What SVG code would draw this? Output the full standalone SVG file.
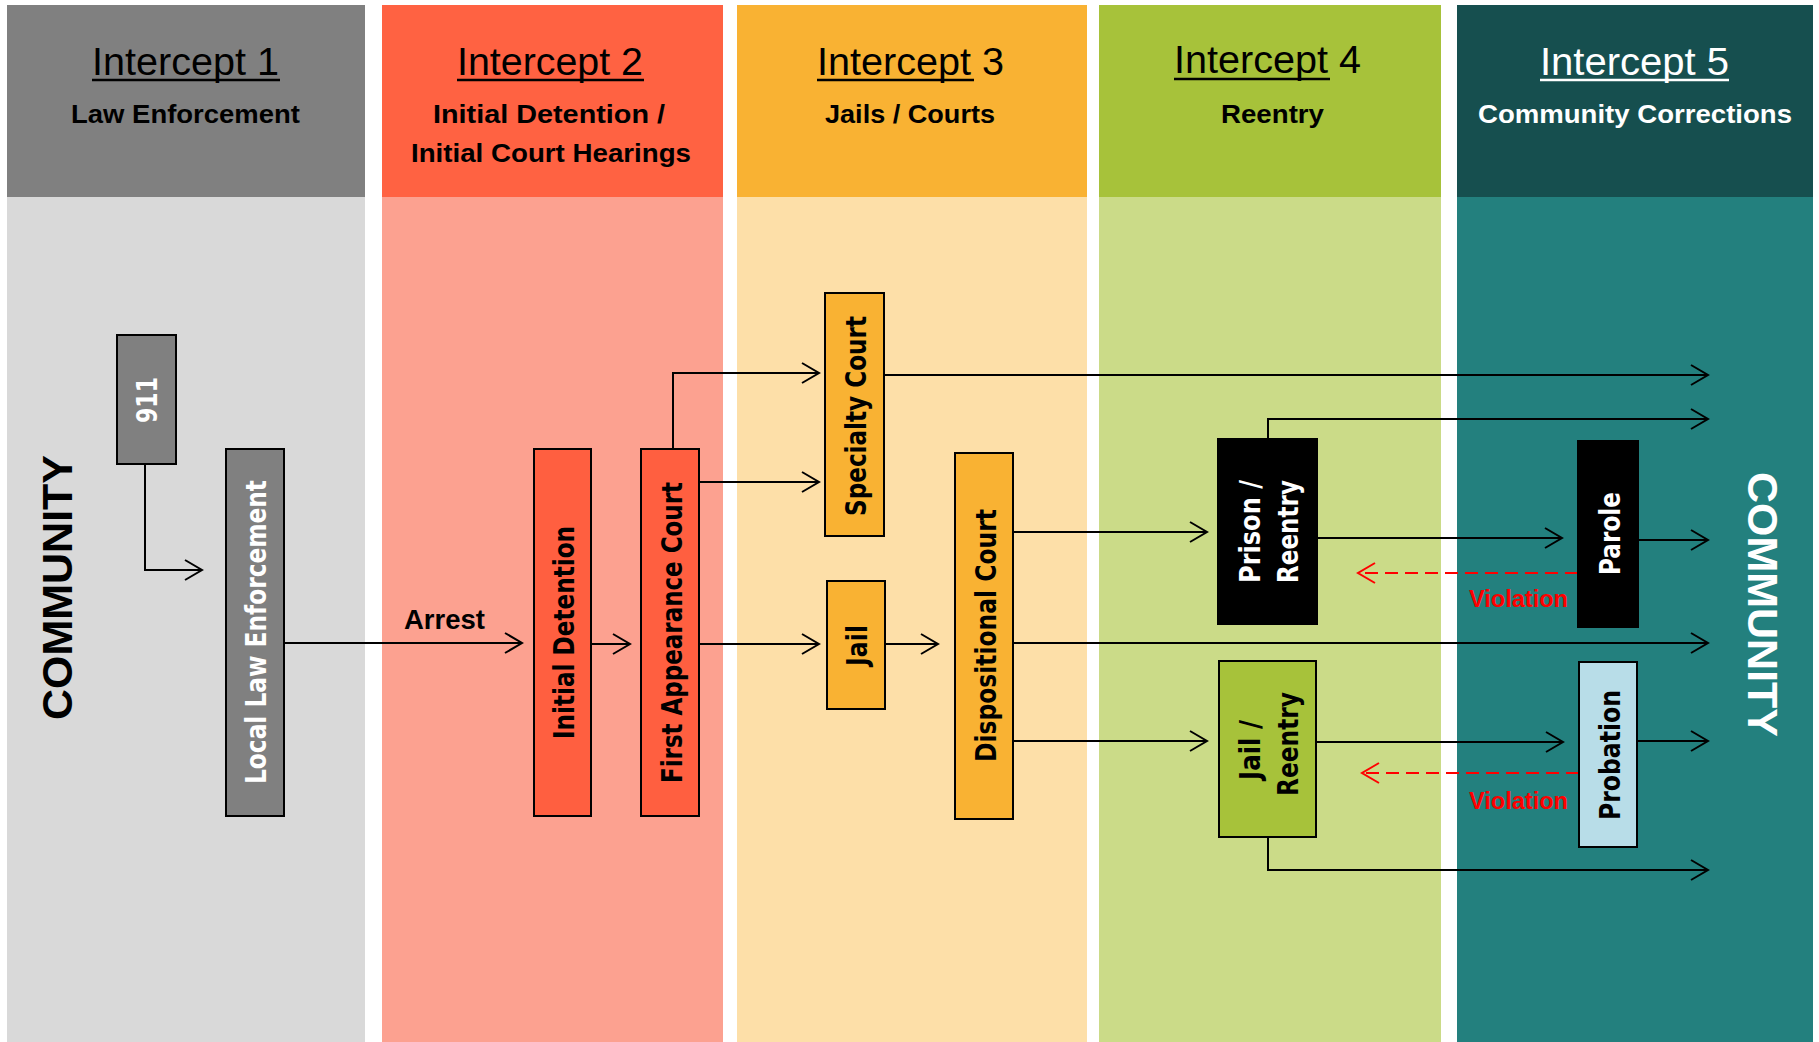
<svg xmlns="http://www.w3.org/2000/svg" width="1819" height="1042" viewBox="0 0 1819 1042">
<style>
.hd{font-family:"Liberation Sans",Arial,sans-serif;font-size:38px;}
.sub{font-family:"Liberation Sans",Arial,sans-serif;font-size:26px;font-weight:bold;}
.lbl{font-family:"DejaVu Sans",Verdana,sans-serif;font-size:29px;font-weight:bold;text-anchor:middle;}
.comm{font-family:"Liberation Sans",Arial,sans-serif;font-size:43px;font-weight:bold;text-anchor:middle;}
.viol{font-family:"Liberation Sans",Arial,sans-serif;font-size:24px;font-weight:bold;fill:#ff0000;}
.box{stroke:#000;stroke-width:2;}
.ul{stroke-width:2.5;}
.con{fill:none;stroke:#000;stroke-width:2;marker-end:url(#ah);}
.vio{fill:none;stroke:#ff0000;stroke-width:2;stroke-dasharray:13 7;marker-end:url(#ahr);}
</style>
<defs>
<marker id="ah" markerUnits="userSpaceOnUse" viewBox="-19 -12 21 24" refX="0" refY="0" markerWidth="21" markerHeight="24" orient="auto">
<path d="M-17,-10 L0,0 L-17,10" fill="none" stroke="#000" stroke-width="2"/>
</marker>
<marker id="ahr" markerUnits="userSpaceOnUse" viewBox="-19 -12 21 24" refX="0" refY="0" markerWidth="21" markerHeight="24" orient="auto">
<path d="M-17,-10 L0,0 L-17,10" fill="none" stroke="#ff0000" stroke-width="2"/>
</marker>
</defs>
<rect width="1819" height="1042" fill="#ffffff"/>

<g id="intercept1">
<rect x="7" y="5" width="358" height="192" fill="#808080"/>
<rect x="7" y="197" width="358" height="845" fill="#d9d9d9"/>
<text class="hd" x="92" y="75" textLength="187" lengthAdjust="spacingAndGlyphs">Intercept 1</text>
<line class="ul" x1="92" y1="80" x2="280" y2="80" stroke="#000"/>
<text class="sub" x="71" y="123" textLength="229" lengthAdjust="spacingAndGlyphs">Law Enforcement</text>
</g>
<g id="intercept2">
<rect x="382" y="5" width="341" height="192" fill="#ff6242"/>
<rect x="382" y="197" width="341" height="845" fill="#fca190"/>
<text class="hd" x="457" y="75" textLength="186" lengthAdjust="spacingAndGlyphs">Intercept 2</text>
<line class="ul" x1="457" y1="80" x2="644" y2="80" stroke="#000"/>
<text class="sub" x="433" y="123" textLength="232" lengthAdjust="spacingAndGlyphs">Initial Detention /</text>
<text class="sub" x="411" y="162" textLength="280" lengthAdjust="spacingAndGlyphs">Initial Court Hearings</text>
</g>
<g id="intercept3">
<rect x="737" y="5" width="350" height="192" fill="#f9b233"/>
<rect x="737" y="197" width="350" height="845" fill="#fddfa8"/>
<text class="hd" x="817" y="75" textLength="187" lengthAdjust="spacingAndGlyphs">Intercept 3</text>
<line class="ul" x1="817" y1="80" x2="974" y2="80" stroke="#000"/>
<text class="sub" x="825" y="123" textLength="170" lengthAdjust="spacingAndGlyphs">Jails / Courts</text>
</g>
<g id="intercept4">
<rect x="1099" y="5" width="342" height="192" fill="#a7c23a"/>
<rect x="1099" y="197" width="342" height="845" fill="#cbdb88"/>
<text class="hd" x="1174" y="73" textLength="187" lengthAdjust="spacingAndGlyphs">Intercept 4</text>
<line class="ul" x1="1174" y1="79" x2="1330" y2="79" stroke="#000"/>
<text class="sub" x="1221" y="123" textLength="103" lengthAdjust="spacingAndGlyphs">Reentry</text>
</g>
<g id="intercept5">
<rect x="1457" y="5" width="356" height="192" fill="#164f4f"/>
<rect x="1457" y="197" width="356" height="845" fill="#23807e"/>
<text class="hd" x="1540" y="75" textLength="189" lengthAdjust="spacingAndGlyphs" fill="#ffffff">Intercept 5</text>
<line class="ul" x1="1540" y1="80" x2="1729" y2="80" stroke="#ffffff"/>
<text class="sub" x="1478" y="123" textLength="314" lengthAdjust="spacingAndGlyphs" fill="#ffffff">Community Corrections</text>
</g>

<g id="community-left">
<text class="comm" transform="translate(72,587.5) rotate(-90)" textLength="265" lengthAdjust="spacingAndGlyphs" fill="#000">COMMUNITY</text>
</g>
<g id="community-right">
<text class="comm" transform="translate(1748,604.5) rotate(90)" textLength="265" lengthAdjust="spacingAndGlyphs" fill="#ffffff">COMMUNITY</text>
</g>

<g id="connectors">
<path class="con" d="M145,464 V570 H202"/>
<path class="con" d="M285,643 H522"/>
<path class="con" d="M591,644 H630"/>
<path class="con" d="M673,449 V373 H819"/>
<path class="con" d="M699,482 H819"/>
<path class="con" d="M699,644 H819"/>
<path class="con" d="M885,644 H938"/>
<path class="con" d="M884,375 H1708"/>
<path class="con" d="M1013,532 H1207"/>
<path class="con" d="M1013,643 H1708"/>
<path class="con" d="M1013,741 H1207"/>
<path class="con" d="M1268,439 V419 H1708"/>
<path class="con" d="M1317,538 H1562"/>
<path class="con" d="M1638,540 H1708"/>
<path class="vio" d="M1578,573 H1358"/>
<path class="con" d="M1316,742 H1563"/>
<path class="con" d="M1637,741 H1708"/>
<path class="vio" d="M1579,773 H1362"/>
<path class="con" d="M1268,837 V870 H1708"/>
<text class="sub" x="404" y="629" textLength="81" lengthAdjust="spacingAndGlyphs" style="font-size:27px">Arrest</text>
<text class="viol" x="1469" y="607" textLength="99" lengthAdjust="spacingAndGlyphs">Violation</text>
<text class="viol" x="1469" y="809" textLength="99" lengthAdjust="spacingAndGlyphs">Violation</text>
</g>

<g id="node-911">
<rect class="box" x="117" y="335" width="59" height="129" fill="#808080"/>
<text class="lbl" transform="translate(157,400) rotate(-90)" textLength="46" lengthAdjust="spacingAndGlyphs" fill="#ffffff">911</text>
</g>
<g id="node-local-law">
<rect class="box" x="226" y="449" width="58" height="367" fill="#808080"/>
<text class="lbl" transform="translate(266,632) rotate(-90)" textLength="304" lengthAdjust="spacingAndGlyphs" fill="#ffffff">Local Law Enforcement</text>
</g>
<g id="node-initial-detention">
<rect class="box" x="534" y="449" width="57" height="367" fill="#ff5f40"/>
<text class="lbl" transform="translate(574,632.5) rotate(-90)" textLength="213" lengthAdjust="spacingAndGlyphs" fill="#000">Initial Detention</text>
</g>
<g id="node-first-appearance">
<rect class="box" x="641" y="449" width="58" height="367" fill="#ff5f40"/>
<text class="lbl" transform="translate(682,632.5) rotate(-90)" textLength="301" lengthAdjust="spacingAndGlyphs" fill="#000">First Appearance Court</text>
</g>
<g id="node-specialty-court">
<rect class="box" x="825" y="293" width="59" height="243" fill="#f9b233"/>
<text class="lbl" transform="translate(866,416) rotate(-90)" textLength="200" lengthAdjust="spacingAndGlyphs" fill="#000">Specialty Court</text>
</g>
<g id="node-jail">
<rect class="box" x="827" y="581" width="58" height="128" fill="#f9b233"/>
<text class="lbl" transform="translate(867,645.5) rotate(-90)" textLength="41" lengthAdjust="spacingAndGlyphs" fill="#000">Jail</text>
</g>
<g id="node-dispositional-court">
<rect class="box" x="955" y="453" width="58" height="366" fill="#f9b233"/>
<text class="lbl" transform="translate(996,635.5) rotate(-90)" textLength="253" lengthAdjust="spacingAndGlyphs" fill="#000">Dispositional Court</text>
</g>
<g id="node-prison-reentry">
<rect class="box" x="1218" y="439" width="99" height="185" fill="#000"/>
<text class="lbl" transform="translate(1260,531.5) rotate(-90)" textLength="103" lengthAdjust="spacingAndGlyphs" fill="#ffffff">Prison /</text>
<text class="lbl" transform="translate(1298,531.5) rotate(-90)" textLength="103" lengthAdjust="spacingAndGlyphs" fill="#ffffff">Reentry</text>
</g>
<g id="node-jail-reentry">
<rect class="box" x="1219" y="661" width="97" height="176" fill="#a7c23a"/>
<text class="lbl" transform="translate(1260,750) rotate(-90)" textLength="60" lengthAdjust="spacingAndGlyphs" fill="#000">Jail /</text>
<text class="lbl" transform="translate(1298,744) rotate(-90)" textLength="104" lengthAdjust="spacingAndGlyphs" fill="#000">Reentry</text>
</g>
<g id="node-parole">
<rect class="box" x="1578" y="441" width="60" height="186" fill="#000"/>
<text class="lbl" transform="translate(1620,533.5) rotate(-90)" textLength="83" lengthAdjust="spacingAndGlyphs" fill="#ffffff">Parole</text>
</g>
<g id="node-probation">
<rect class="box" x="1579" y="662" width="58" height="185" fill="#b8dde8"/>
<text class="lbl" transform="translate(1620,755) rotate(-90)" textLength="130" lengthAdjust="spacingAndGlyphs" fill="#000">Probation</text>
</g>
</svg>
